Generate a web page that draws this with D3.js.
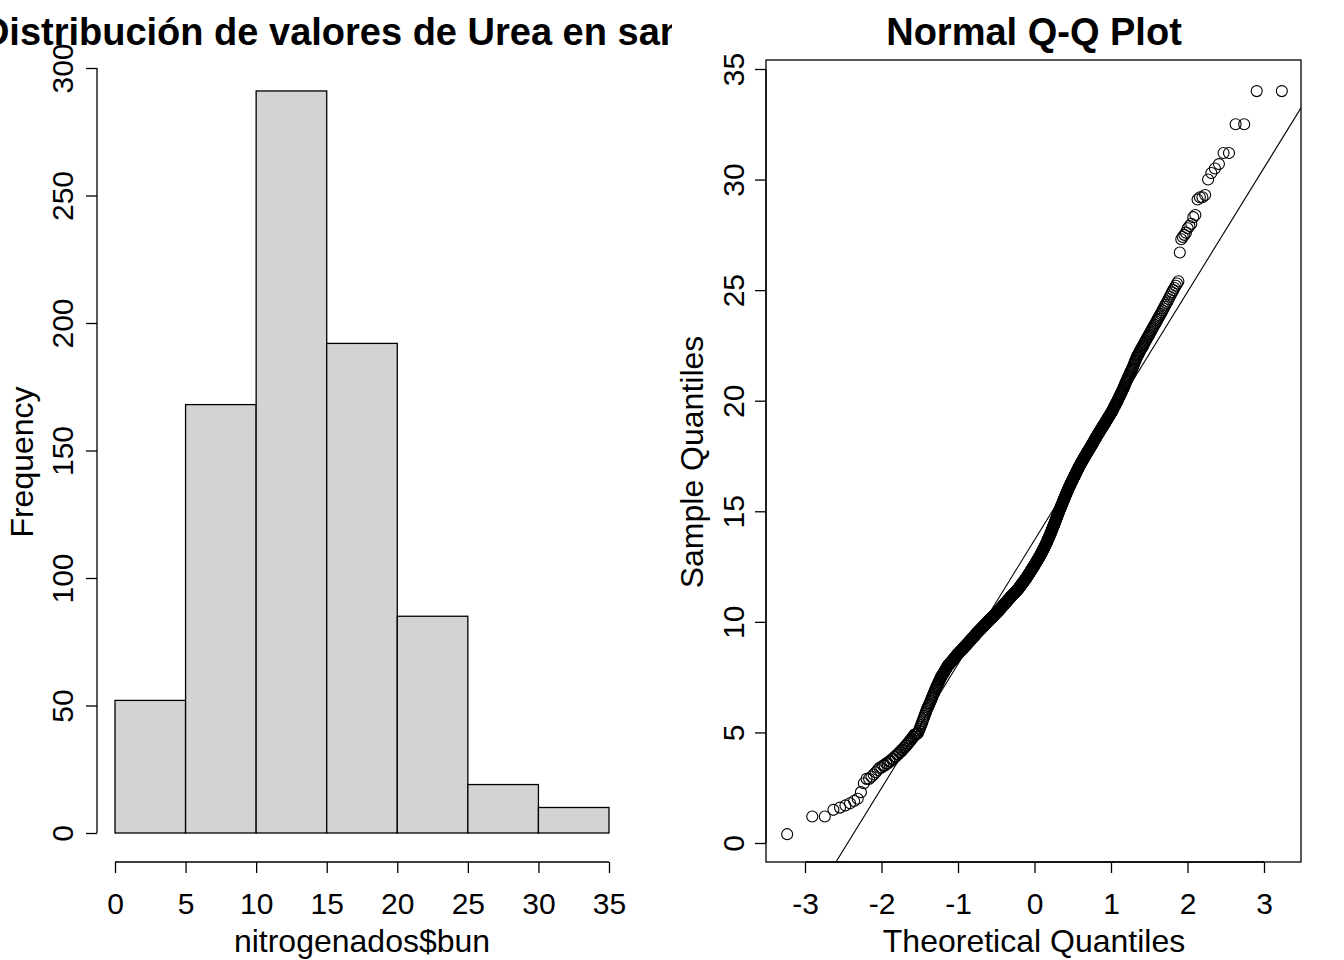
<!DOCTYPE html>
<html><head><meta charset="utf-8">
<script src="https://cdn.jsdelivr.net/npm/d3@7"></script>
<style>body{margin:0;background:#fff}svg{font-family:"Liberation Sans",Arial,sans-serif}</style>
</head><body><svg id="c" width="1344" height="960"></svg>
<script>
// Histogram data
const binEdges = [0,5,10,15,20,25,30,35];
const binCounts = [52,168,291,192,85,19,10];
const histYTicks = [0,50,100,150,200,250,300];
const histXTicks = [0,5,10,15,20,25,30,35];
// Q-Q sample data (sorted), lower tail explicit
const lowTail = [0.4,1.2,1.2,1.5,1.6,1.7,1.8,1.9,2.0,2.3,2.7,2.9,2.9,3.0,3.1,3.2,3.3,3.4,3.4,3.5,3.5,3.6,3.6,3.7,3.7,3.8,3.8,3.9,3.9,4.0,4.0,4.1,4.1,4.2,4.2,4.3,4.3,4.4,4.4,4.5,4.5,4.6,4.6,4.7,4.7,4.8,4.8,4.9,4.9,4.9,4.95,4.95];
// middle: [band start, count] with values within a 0.5 band
const midBands = [[5.0,6],[5.5,6],[6.0,8],[6.5,8],[7.0,10],[7.5,14],[8.0,22],[8.5,28],[9.0,30],[9.5,36],
 [10.0,40],[10.5,38],[11.0,42],[11.5,34],[12.0,30],[12.5,28],[13.0,24],[13.5,20],[14.0,18],[14.5,17],
 [15.0,18],[15.5,18],[16.0,20],[16.5,20],[17.0,22],[17.5,22],[18.0,20],[18.5,20],[19.0,18],[19.5,14],
 [20.0,12],[20.5,10],[21.0,10],[21.5,8],[22.0,10],[22.5,9],[23.0,8],[23.5,7],[24.0,6],[24.5,5]];
const highTail = [25.0,25.1,25.2,25.3,25.4,26.7,27.3,27.4,27.5,27.6,27.8,27.9,28.0,28.3,28.4,29.1,29.2,29.2,29.3,
 30.0,30.3,30.5,30.7,31.2,31.2,32.5,32.5,34.0,34.0];
const qqXTicks = [-3,-2,-1,0,1,2,3];
const qqYTicks = [0,5,10,15,20,25,30,35];
const qqLine = {intercept:13.7, slope:5.61};

const svg = d3.select("#c");
const FT = 30, FL = 32, FM = 38;
const fmt = d => String(d);

// ---------- Histogram ----------
const hx = d3.scaleLinear().domain([0,35]).range([115,609]);
const hy = d3.scaleLinear().domain([0,300]).range([833,68]);
const defs = svg.append("defs");
defs.append("clipPath").attr("id","lc").append("rect").attr("x",0).attr("y",0).attr("width",672).attr("height",960);
svg.append("text").attr("clip-path","url(#lc)").attr("x",362).attr("y",45).attr("text-anchor","middle")
 .attr("font-weight","bold").attr("font-size",FM).text("Distribución de valores de Urea en sangre");
svg.append("g").selectAll("rect").data(binCounts).join("rect")
 .attr("x",(d,i)=>hx(binEdges[i])).attr("width",(d,i)=>hx(binEdges[i+1])-hx(binEdges[i]))
 .attr("y",d=>hy(d)).attr("height",d=>hy(0)-hy(d)).attr("fill","#d3d3d3").attr("stroke","#000").attr("stroke-width",1.3);
const hxa = svg.append("g").attr("transform","translate(0,862)")
 .call(d3.axisBottom(hx).tickValues(histXTicks).tickSize(11).tickFormat(fmt));
hxa.selectAll(".tick text").attr("y",0).attr("dy",0).attr("transform","translate(0,52)");
const hya = svg.append("g").attr("transform","translate(97,0)")
 .call(d3.axisLeft(hy).tickValues(histYTicks).tickSize(11).tickFormat(fmt));
hya.selectAll(".tick text").attr("transform","rotate(-90)").attr("x",0).attr("y",-24).attr("dy",0).attr("text-anchor","middle");
svg.append("text").attr("x",362).attr("y",952).attr("text-anchor","middle").attr("font-size",FL).text("nitrogenados$bun");
svg.append("text").attr("transform","translate(33,462) rotate(-90)").attr("text-anchor","middle").attr("font-size",FL).text("Frequency");

// ---------- QQ ----------
function qnorm(p){
 const a=[-3.969683028665376e+01,2.209460984245205e+02,-2.759285104469687e+02,1.383577518672690e+02,-3.066479806614716e+01,2.506628277459239e+00];
 const b=[-5.447609879822406e+01,1.615858368580409e+02,-1.556989798598866e+02,6.680131188771972e+01,-1.328068155288572e+01];
 const c=[-7.784894002430293e-03,-3.223964580411365e-01,-2.400758277161838e+00,-2.549732539343734e+00,4.374664141464968e+00,2.938163982698783e+00];
 const d=[7.784695709041462e-03,3.224671290700398e-01,2.445134137142996e+00,3.754408661907416e+00];
 const pl=0.02425;let q,r;
 if(p<pl){q=Math.sqrt(-2*Math.log(p));return (((((c[0]*q+c[1])*q+c[2])*q+c[3])*q+c[4])*q+c[5])/((((d[0]*q+d[1])*q+d[2])*q+d[3])*q+1);}
 if(p>1-pl){q=Math.sqrt(-2*Math.log(1-p));return -(((((c[0]*q+c[1])*q+c[2])*q+c[3])*q+c[4])*q+c[5])/((((d[0]*q+d[1])*q+d[2])*q+d[3])*q+1);}
 q=p-0.5;r=q*q;return (((((a[0]*r+a[1])*r+a[2])*r+a[3])*r+a[4])*r+a[5])*q/(((((b[0]*r+b[1])*r+b[2])*r+b[3])*r+b[4])*r+1);
}
const sample = lowTail.slice();
midBands.forEach(([v,n])=>{for(let k=0;k<n;k++) sample.push(v+0.5*k/n);});
highTail.forEach(v=>sample.push(v));
const n = sample.length;
const pts = sample.map((v,i)=>({x:qnorm((i+1-0.5)/n), y:v}));

const qx = d3.scaleLinear().domain([-3,3]).range([805,1264]);
const qy = d3.scaleLinear().domain([0,35]).range([843,69]);
defs.append("clipPath").attr("id","qc").append("rect").attr("x",766).attr("y",60).attr("width",535).attr("height",802);
svg.append("text").attr("x",1034).attr("y",45).attr("text-anchor","middle").attr("font-weight","bold").attr("font-size",FM).text("Normal Q-Q Plot");
svg.append("g").selectAll("circle").data(pts).join("circle")
 .attr("cx",d=>qx(d.x)).attr("cy",d=>qy(d.y)).attr("r",5.5).attr("fill","none").attr("stroke","#000").attr("stroke-width",1.1);
svg.append("line").attr("clip-path","url(#qc)")
 .attr("x1",qx(-4)).attr("y1",qy(qqLine.intercept-4*qqLine.slope)).attr("x2",qx(4)).attr("y2",qy(qqLine.intercept+4*qqLine.slope))
 .attr("stroke","#000").attr("stroke-width",1.1);
svg.append("rect").attr("x",766).attr("y",60).attr("width",535).attr("height",802).attr("fill","none").attr("stroke","#000").attr("stroke-width",1.3);
const qxa = svg.append("g").attr("transform","translate(0,862)")
 .call(d3.axisBottom(qx).tickValues(qqXTicks).tickSize(11).tickFormat(fmt));
qxa.selectAll(".tick text").attr("y",0).attr("dy",0).attr("transform","translate(0,52)");
const qya = svg.append("g").attr("transform","translate(766,0)")
 .call(d3.axisLeft(qy).tickValues(qqYTicks).tickSize(11).tickFormat(fmt));
qya.selectAll(".tick text").attr("transform","rotate(-90)").attr("x",0).attr("y",-22).attr("dy",0).attr("text-anchor","middle");
svg.append("text").attr("x",1034).attr("y",952).attr("text-anchor","middle").attr("font-size",FL).text("Theoretical Quantiles");
svg.append("text").attr("transform","translate(703,462) rotate(-90)").attr("text-anchor","middle").attr("font-size",FL).text("Sample Quantiles");

svg.selectAll(".tick text").attr("font-size",FT).attr("fill","#000").attr("font-family","Liberation Sans, Arial, sans-serif");
svg.selectAll(".domain, .tick line").attr("stroke","#000").attr("stroke-width",1.3);
hxa.select(".domain").attr("d","M115,0H609");
hya.select(".domain").attr("d","M0,833V68");
qxa.select(".domain").attr("d","M805,0H1264");
qya.select(".domain").attr("d","M0,843V69");
</script></body></html>
